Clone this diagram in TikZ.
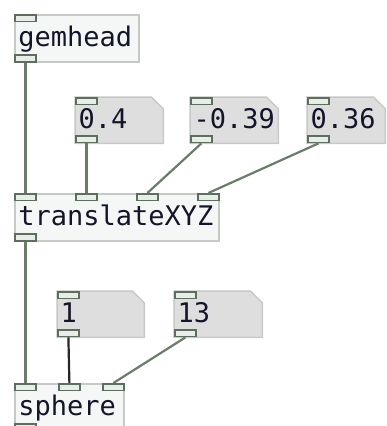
\documentclass[tikz,border=0pt]{standalone}
\usepackage{fontspec}
\setmonofont{DejaVu Sans Mono}
\usetikzlibrary{backgrounds}
\definecolor{boxline}{HTML}{C6C9C6}
\definecolor{objfill}{HTML}{F5F7F7}
\definecolor{numfill}{HTML}{DEDEDE}
\definecolor{portline}{HTML}{5E6E5E}
\definecolor{portfill}{HTML}{E9EDE9}
\definecolor{wirecol}{HTML}{6A7C6A}
\definecolor{txt}{HTML}{15152A}
\begin{document}
\begin{tikzpicture}[x=1pt,y=-1pt,
  pdtext/.style={anchor=north west, inner xsep=3.5pt, inner ysep=8pt,
    text height=24pt, text depth=7pt,
    font=\fontsize{27}{32}\selectfont\ttfamily, text=txt, align=left},
  objbox/.style={pdtext, draw=boxline, line width=1.5pt, fill=objfill},
  numbox/.style={pdtext, inner ysep=7.5pt},
  numshape/.style={draw=boxline, line width=1.5pt, fill=numfill},
  port/.style={draw=portline, fill=portfill, line width=1.8pt, rectangle,
    inner sep=0pt, minimum width=21pt, minimum height=6.5pt},
  inlet/.style={port, anchor=north west},
  outlet/.style={port, anchor=south west},
  wire/.style={draw=wirecol, line width=2.2pt},
  sigwire/.style={draw=black!85, line width=2.2pt}]
\useasboundingbox (0,0) rectangle (386,426);

% object boxes
\node[objbox, text width=117pt] (gem) at (14,14) {gemhead};
\node[objbox, text width=197pt] (tr) at (14,193) {translateXYZ};
\node[objbox, text width=102pt] (sph) at (14,383) {sphere};

% number boxes
\node[numbox, text width=81pt] (na) at (75,97) {0.4};
\node[numbox, text width=81pt] (nb) at (190,97) {-0.39};
\node[numbox, text width=71pt] (nc) at (307,97) {0.36};
\node[numbox, text width=80pt] (nd) at (57,291) {1};
\node[numbox, text width=81pt] (ne) at (174,291) {13};

\begin{scope}[on background layer]
  \fill[white] (0,0) rectangle (386,426);
  \foreach \n in {na,nb,nc,nd,ne}
    \path[numshape] (\n.north west) -- ([xshift=-12pt]\n.north east)
      -- ([yshift=-12pt]\n.north east) -- (\n.south east)
      -- (\n.south west) -- cycle;
\end{scope}

% inlets and outlets
\node[inlet] (gemI) at (gem.north west) {};
\node[outlet] (gemO) at (gem.south west) {};
\foreach \n in {na,nb,nc,nd,ne} {
  \node[inlet] (\n I) at (\n.north west) {};
  \node[outlet] (\n O) at (\n.south west) {};
}
\node[inlet] (trI1) at (tr.north west) {};
\node[inlet] (trI2) at ([xshift=61pt]tr.north west) {};
\node[inlet] (trI3) at ([xshift=122pt]tr.north west) {};
\node[inlet] (trI4) at ([xshift=183pt]tr.north west) {};
\node[outlet] (trO) at (tr.south west) {};
\node[inlet] (sphI1) at (sph.north west) {};
\node[inlet] (sphI2) at ([xshift=44pt]sph.north west) {};
\node[inlet] (sphI3) at ([xshift=88pt]sph.north west) {};
\node[outlet] (sphO) at (sph.south west) {};

% connections
\draw[wire] (gemO.south) -- (trI1.north);
\draw[wire] (naO.south) -- (trI2.north);
\draw[wire] (nbO.south) -- (trI3.north);
\draw[wire] (ncO.south) -- (trI4.north);
\draw[wire] (trO.south) -- (sphI1.north);
\draw[sigwire] (ndO.south) -- (sphI2.north);
\draw[wire] (neO.south) -- (sphI3.north);
\end{tikzpicture}
\end{document}
